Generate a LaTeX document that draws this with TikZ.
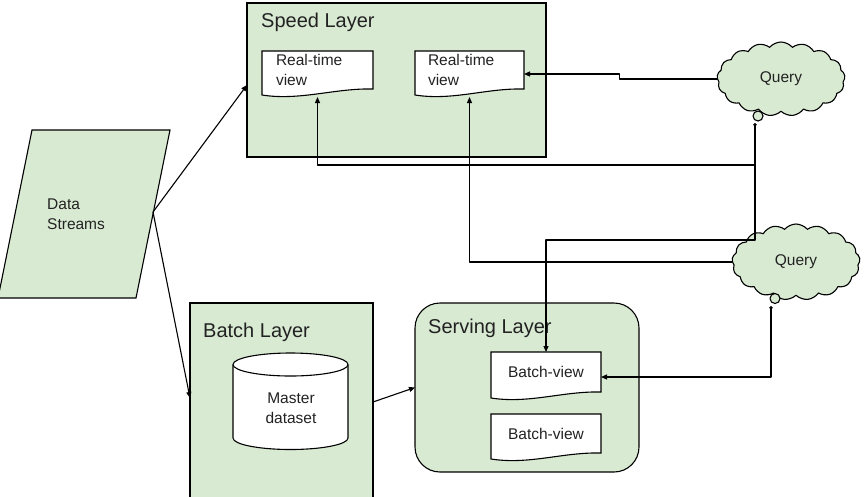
\documentclass[tikz,border=0pt]{standalone}
\usepackage{fontspec}
\setmainfont{Liberation Sans}
\usetikzlibrary{shapes.symbols,arrows.meta,calc}
\definecolor{lgreen}{HTML}{D9EAD3}
\definecolor{txt}{HTML}{222222}
\pgfdeclarelayer{back}
\pgfdeclarelayer{mid}
\pgfsetlayers{back,mid,main}
\newcommand\docoutline[1]{%
  \draw[docline] (#1.south west) -- (#1.north west) -- (#1.north east) -- (#1.south east)
    .. controls ([xshift=-38pt,yshift=1pt]#1.south east) and ([xshift=38pt,yshift=-12pt]#1.south west)
    .. ([yshift=-6pt]#1.south west) -- cycle;}
\begin{document}
\begin{tikzpicture}[x=1pt,y=-1pt,line join=round,
  layerbox/.style={draw=black,fill=lgreen,line width=1.1pt,inner sep=0pt,outer sep=0pt},
  docbox/.style={inner sep=0pt,outer sep=0pt,font=\fontsize{15.5}{20}\selectfont,text=txt},
  docline/.style={draw=black,fill=white,line width=1.1pt},
  small/.style={font=\fontsize{15.5}{20}\selectfont,text=txt},
  titletext/.style={font=\fontsize{20}{24}\selectfont,text=txt,anchor=base west,inner sep=0pt},
  arr/.style={-{Triangle[length=6pt,width=5pt]},line width=1.1pt},
  qcloud/.style={cloud,cloud puffs=17,cloud puff arc=100,aspect=1.8,draw=black,fill=lgreen,
     line width=1.1pt,inner sep=0pt,small},
  tail/.style={circle,draw=black,fill=lgreen,line width=1.1pt,minimum size=10pt,inner sep=0pt}]
\useasboundingbox (0,0) rectangle (864,496);

% layer boxes
\begin{pgfonlayer}{back}
\node[layerbox,minimum width=299pt,minimum height=154pt] (speed) at (396.5,80) {};
\node[layerbox,minimum width=183pt,minimum height=198pt] (batch) at (281.5,402) {};
\node[layerbox,rounded corners=25pt,minimum width=224pt,minimum height=169pt] (serving) at (527,387.5) {};
\draw[draw=black,fill=lgreen,line width=1.1pt] (32,130) -- (170,130) -- (136,298) -- (-2,298) -- cycle;
\end{pgfonlayer}

\node[titletext] (speedt) at (261,27) {Speed Layer};
\node[titletext] (batcht) at (203,337) {Batch Layer};
\node[titletext] (servingt) at (428,333) {Serving Layer};

% data streams
\node[small,align=left,anchor=west,inner sep=0pt] (ds) at (47,214) {Data\\Streams};
\coordinate (dsout) at (153,212);

% documents
\node[docbox,minimum width=111pt,minimum height=38pt,text width=83pt,align=left] (rt1) at (317.5,70) {Real-time\\view};
\node[docbox,minimum width=109pt,minimum height=38pt,text width=83pt,align=left] (rt2) at (469.5,70) {Real-time\\view};
\node[docbox,minimum width=110pt,minimum height=40pt] (bv1) at (546,372) {Batch-view};
\node[docbox,minimum width=110pt,minimum height=39pt] (bv2) at (546,433.5) {Batch-view};
\begin{pgfonlayer}{mid}
\docoutline{rt1}
\docoutline{rt2}
\docoutline{bv1}
\docoutline{bv2}
\end{pgfonlayer}

% master dataset cylinder
\node[small,align=center,inner sep=0pt] (master) at (291,408) {Master\\dataset};
\begin{pgfonlayer}{mid}
\draw[docline] (233,364.5) -- (233,438) arc[start angle=180,end angle=360,x radius=57.5pt,y radius=11.5pt]
  -- (348,364.5) arc[start angle=0,end angle=180,x radius=57.5pt,y radius=11.5pt] -- cycle;
\draw[line width=1.1pt] (233,364.5) arc[start angle=180,end angle=360,x radius=57.5pt,y radius=11.5pt];
\end{pgfonlayer}

% queries
\node[qcloud,minimum width=128pt,minimum height=74pt] (q1) at (781,79) {Query};
\node[qcloud,minimum width=128pt,minimum height=76pt] (q2) at (796,262) {Query};
\node[tail] (q1b) at (758,116) {};
\node[tail] (q2b) at (775,298.5) {};
\coordinate (q1tail) at (755,123);
\coordinate (q2tail) at (771,306);
\coordinate (j1) at (755,165);

% connectors
\draw[arr] (dsout) -- ([yshift=-5pt]speed.west);
\draw[arr] (dsout) -- ([yshift=4pt]batch.west);
\draw[arr] (batch.east) -- (serving.west);
\draw[arr] (q1.west) -- ++(-97,0) |- ([yshift=-4pt]rt2.east);
\draw[arr,{Circle[length=3.5pt]}-{Triangle[length=6pt,width=5pt]}] (q1tail) -- (755,240) -| (bv1.north);
\draw[arr] (j1) -| ([yshift=-8pt]rt1.south);
\draw[arr] (q2.west) -| ([yshift=-8pt]rt2.south);
\draw[arr,{Circle[length=3.5pt]}-{Triangle[length=6pt,width=5pt]}] (q2tail) |- ([yshift=-5pt]bv1.east);
\end{tikzpicture}
\end{document}
